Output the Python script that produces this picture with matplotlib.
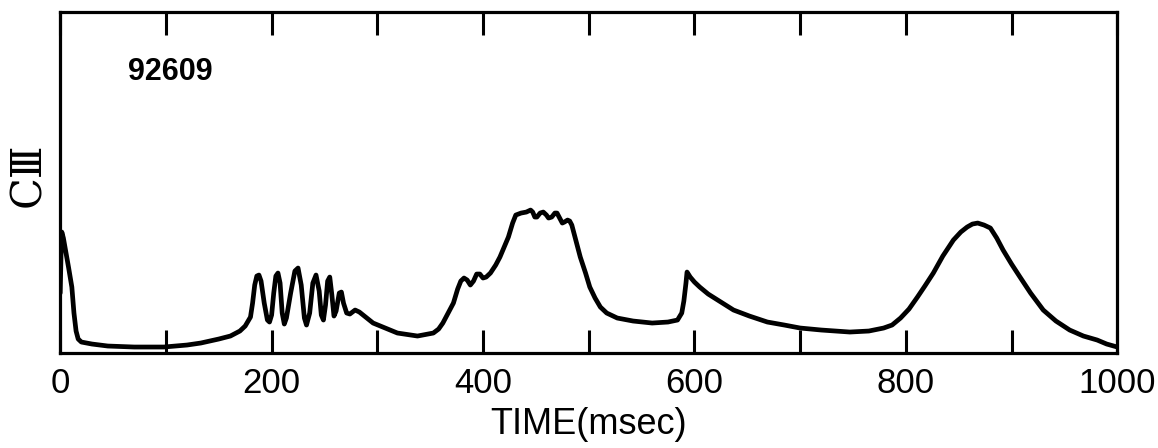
import numpy as np
import matplotlib
matplotlib.use("Agg")
import matplotlib.pyplot as plt

# C III signal trace, shot 92609 (time in msec, intensity in arbitrary units)
time_ms = [0, 0.8, 1.5, 3, 5, 8, 11, 13, 15, 17, 20, 30, 45, 70, 98, 120, 133,
           150, 161, 170, 175, 180,
           182, 184, 186, 188, 190, 193, 196, 198, 200, 202, 204, 206, 208,
           210, 212, 214, 218, 222, 225, 228, 231, 233, 236, 239, 242, 245,
           247, 249, 251, 253, 255, 257, 259, 261, 264, 266, 268, 271, 274,
           279, 283, 296, 319, 338, 353,
           358, 362, 367, 372, 376, 379, 382, 385, 388, 391, 394, 397, 400,
           403, 407, 412, 416, 420, 424, 428, 431, 436, 441, 445, 447, 449,
           451, 454, 457, 460, 462, 465, 468, 470, 472, 475, 477, 480, 482,
           484, 488, 492, 497, 501, 506, 511, 517, 527, 542, 560, 575, 584,
           588, 590, 592, 593, 596, 600, 605, 613, 622, 637, 652, 669, 685,
           700, 720, 747, 765, 779, 787, 795, 803, 811, 818, 826, 835, 845,
           852, 858, 863, 868, 874, 880, 886, 892, 900, 908, 918, 930, 942,
           955, 968, 981, 990, 1000]
intensity = [60, 100, 121, 115, 103, 85, 66, 40, 22, 14, 11, 9, 7, 6, 6, 8, 10,
             14, 17, 22, 27, 36,
             50, 68, 77, 78, 72, 50, 33, 31, 38, 60, 77, 80, 70,
             40, 29, 35, 60, 82, 85, 68, 35, 28, 40, 70, 78, 62,
             38, 33, 48, 72, 76, 58, 37, 42, 60, 61, 50, 40, 39,
             43, 41, 30, 20, 17, 20,
             24, 30, 40, 50, 64, 72, 75, 73, 68, 72, 79, 79, 75,
             76, 80, 88, 96, 106, 116, 130, 138, 140, 141, 143, 141, 136,
             136, 140, 141, 138, 135, 136, 140, 140, 136, 130, 131, 133, 132,
             128, 112, 96, 80, 66, 55, 46, 40, 35, 32, 30, 31, 33,
             40, 52, 70, 81, 76, 71, 66, 59, 53, 43, 37, 31, 28,
             25, 23, 21, 22, 25, 28, 35, 44, 56, 67, 80, 97, 113,
             121, 126, 129, 130, 128, 125, 115, 103, 89, 76, 60, 43, 32,
             23, 17, 13, 9, 6]

major_ticks = [0, 200, 400, 600, 800, 1000]
minor_ticks = [100, 300, 500, 700, 900]
shot_label = "92609"

fig = plt.figure(figsize=(11.58, 4.48), dpi=100)
ax = fig.add_axes([0.052, 0.212, 0.9128, 0.761])

ax.plot(time_ms, intensity, color="black", lw=3.4, solid_joinstyle="round",
        solid_capstyle="round")

ax.set_xlim(0, 1000)
ax.set_ylim(0, 341)

for s in ax.spines.values():
    s.set_linewidth(2.3)

ax.set_xticks(major_ticks)
ax.set_xticks(minor_ticks, minor=True)
ax.set_yticks([])
ax.tick_params(axis="x", which="both", direction="in", length=16.5, width=2.2,
               top=True, bottom=True, pad=10)
for lab in ax.get_xticklabels():
    lab.set_fontfamily("Liberation Sans")
    lab.set_fontsize(25)

ax.set_xlabel("TIME(msec)", fontsize=26, family="Liberation Sans", labelpad=5)

ax.text(64, 281, shot_label, fontsize=22, fontweight="bold",
        family="Liberation Sans", va="center", ha="left")

fig.text(0.024, 0.61, "CⅢ", rotation=90, fontsize=30,
         family=["DejaVu Serif"], va="center", ha="center")

plt.savefig("out.png", dpi=100)
